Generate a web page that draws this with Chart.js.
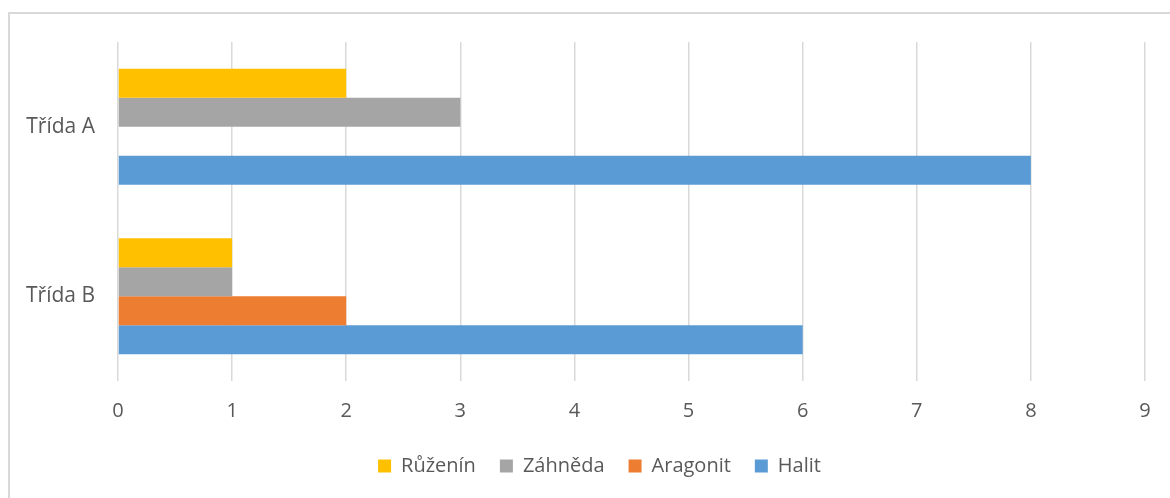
<!DOCTYPE html>
<html>
<head>
<meta charset="utf-8">
<script src="https://cdn.jsdelivr.net/npm/chart.js@4"></script>
<style>
html,body{margin:0;padding:0;background:#fff;}
#wrap{position:relative;width:1170px;height:498px;}
</style>
</head>
<body>
<div id="wrap"><canvas id="c" width="1170" height="498"></canvas></div>
<script>
const categories = ["Třída A", "Třída B"];
const seriesNames = ["Růženín", "Záhněda", "Aragonit", "Halit"];
const ruzenin = [2, 1];
const zahneda = [3, 1];
const aragonit = [0, 2];
const halit = [8, 6];
const xTicks = [0, 1, 2, 3, 4, 5, 6, 7, 8, 9];
const colors = ["#FFC000", "#A5A5A5", "#ED7D31", "#5B9BD5"];

const seriesValues = [ruzenin, zahneda, aragonit, halit];
const FONT = "'Open Sans', 'Noto Sans', sans-serif";
const TXT = "#595959";

const borderPlugin = {
  id: 'outerBorder',
  afterLayout(chart) {
    if (chart.legend) {
      chart.legend.left += 17;
      chart.legend.right += 17;
    }
  },
  beforeDraw(chart) {
    const ctx = chart.ctx;
    ctx.save();
    ctx.strokeStyle = "#d9d9d9";
    ctx.lineWidth = 2;
    ctx.beginPath();
    ctx.moveTo(9, 500);
    ctx.lineTo(9, 13);
    ctx.lineTo(1175, 13);
    ctx.stroke();
    ctx.restore();
  }
};

new Chart(document.getElementById('c'), {
  type: 'bar',
  data: {
    labels: categories,
    datasets: seriesNames.map((n, i) => ({
      label: n,
      data: seriesValues[i],
      backgroundColor: colors[i],
      borderWidth: 0,
      categoryPercentage: 0.684,
      barPercentage: 1.0
    }))
  },
  options: {
    indexAxis: 'y',
    responsive: false,
    animation: false,
    layout: { padding: { top: 42, right: 25, left: 20, bottom: 12 } },
    plugins: {
      legend: {
        position: 'bottom',
        labels: {
          boxWidth: 13, boxHeight: 13,
          padding: 24,
          color: TXT,
          font: { family: FONT, size: 20 }
        }
      },
      tooltip: { enabled: false }
    },
    scales: {
      x: {
        min: 0, max: 9,
        afterBuildTicks(scale) { scale.ticks = xTicks.map(v => ({ value: v })); },
        ticks: { color: TXT, font: { family: FONT, size: 20 }, padding: 18 },
        grid: { color: "#d9d9d9", lineWidth: 1.5, drawTicks: false },
        border: { display: false },
        afterFit(scale) { scale.height = 51; }
      },
      y: {
        ticks: { color: TXT, font: { family: FONT, size: 21 }, padding: 23 },
        grid: { display: false, drawTicks: false },
        border: { display: false },
        afterFit(scale) { scale.width = 98; }
      }
    }
  },
  plugins: [borderPlugin]
});
</script>
</body>
</html>
